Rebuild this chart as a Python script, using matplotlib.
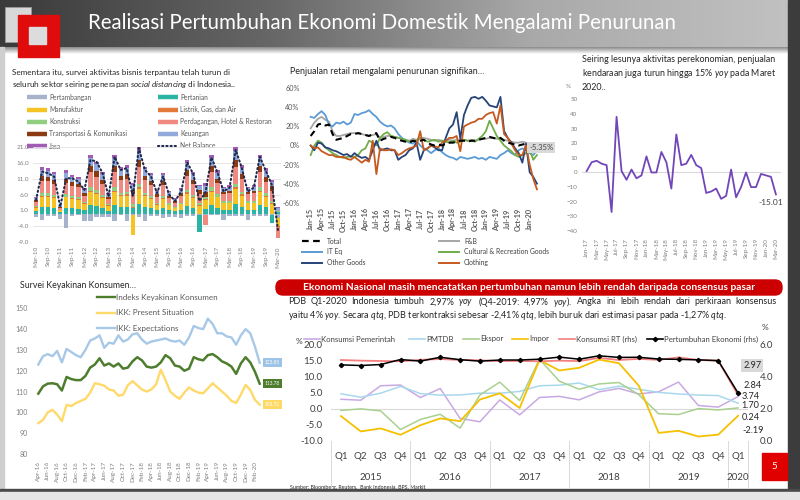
import numpy as np
import matplotlib
matplotlib.use('Agg')
import matplotlib.pyplot as plt
from matplotlib.patches import Rectangle, FancyBboxPatch

plt.rcParams['font.family'] = ['Lato', 'DejaVu Sans']
plt.rcParams['mathtext.fontset'] = 'custom'
plt.rcParams['mathtext.rm'] = 'Lato'
plt.rcParams['mathtext.it'] = 'Lato:italic'

W, H = 800, 500

# ---------------- survei kegiatan dunia usaha (kuartalan Mar-10 .. Mar-20)
survey_ticks = ['Mar-10', 'Sep-10', 'Mar-11', 'Sep-11', 'Mar-12', 'Sep-12', 'Mar-13',
                'Sep-13', 'Mar-14', 'Sep-14', 'Mar-15', 'Sep-15', 'Mar-16', 'Sep-16',
                'Mar-17', 'Sep-17', 'Mar-18', 'Sep-18', 'Mar-19', 'Sep-19', 'Mar-20']
pertambangan = [-1.0, -2.0, -0.8, -0.8, -1.7, -4.6, -0.8, -0.5, -2.5, -2.5,
                -1.0, -1.0, -1.2, -2.5, -0.5, -2.5, -0.5, -1.0, -2.5, -0.8,
                -0.8, -1.5, -1.0, -1.0, -1.5, -0.8, -0.8, -0.3, -0.6, -0.5,
                -0.5, -2.0, -0.8, -0.8, -0.8, -2.0, -0.8, -0.8, -0.8, -0.5, -1.5]
pertanian = [0.7, 2.0, 2.0, 1.8, 0.4, 1.9, 1.7, 1.6, 1.1, 2.6,
             2.3, 1.8, 0.9, 2.6, 2.1, 2.1, 1.8, 2.9, 2.1, 1.8,
             1.0, 1.8, 1.0, 0.7, 1.1, 2.4, 1.8, -5.4, 1.5, 2.6,
             1.9, 1.2, 1.2, 2.9, 2.1, 1.2, 1.2, 2.6, 2.0, -2.5, 0.4]
manufaktur = [1.2, 3.4, 3.3, 3.1, 0.6, 3.2, 2.8, 2.7, 1.9, 4.3,
              3.8, 3.1, 1.5, 4.3, 3.4, 3.6, -6.3, 4.9, 3.4, 2.9,
              1.7, 2.9, 1.6, 1.1, 1.8, 3.9, 3.1, 2.5, 2.8, 4.3,
              3.2, 2.0, 2.1, 4.9, 3.6, 2.0, 2.1, 4.3, 3.3, 3.0, -2.5]
listrik = [0.1, 0.3, 0.3, 0.3, 0.1, 0.3, 0.3, 0.3, 0.2, 0.4,
           0.4, 0.3, 0.2, 0.4, 0.3, 0.4, 0.3, 0.5, 0.3, 0.3,
           0.2, 0.3, 0.2, 0.1, 0.2, 0.4, 0.3, 0.3, 0.3, 0.4,
           0.3, 0.2, 0.2, 0.5, 0.4, 0.2, 0.2, 0.4, 0.3, 0.3, -0.3]
konstruksi = [0.3, 0.8, 0.8, 0.7, 0.1, 0.7, 0.7, 0.6, 0.4, 1.0,
              0.9, 0.7, 0.4, 1.0, 0.8, 0.8, 0.9, 1.1, 0.8, 0.7,
              0.4, 0.7, 0.4, 0.3, 0.4, 0.9, 0.7, 0.6, 0.7, 1.0,
              0.7, 0.5, 0.5, 1.1, 0.8, 0.5, 0.5, 1.0, 0.8, 0.7, 0.3]
perdagangan = [1.4, 3.8, 3.8, 3.5, 0.7, 3.6, 3.2, 3.1, 2.1, 4.9,
               4.3, 3.5, 1.7, 4.9, 3.9, 4.0, 3.2, 5.5, 3.9, 3.3,
               2.0, 3.3, 1.8, 1.3, 2.1, 4.4, 3.5, 2.9, -3.0, 4.9,
               3.6, 2.2, 2.4, 5.5, 4.0, 2.2, 2.4, 4.9, 3.7, 3.3, -3.5]
transportasi = [0.5, 1.5, 1.4, 1.3, 0.3, 1.4, 1.2, 1.2, 0.8, 1.9,
                1.7, 1.3, 0.6, 1.9, 1.5, 1.5, 1.2, 2.1, 1.5, 1.3,
                0.8, 1.3, 0.7, 0.5, 0.8, 1.7, 1.3, 1.1, 1.4, 1.9,
                1.4, 0.8, 0.9, 2.1, 1.5, 0.8, 0.9, 1.9, 1.4, 1.3, 0.2]
keuangan = [0.7, 2.0, 2.0, 1.8, 0.4, 1.9, 1.7, 1.6, 1.1, 2.6,
            2.3, 1.8, 0.9, 2.6, 2.1, 2.1, 1.6, 2.9, 2.1, 1.8,
            1.0, 1.8, 1.0, 0.7, 1.1, 2.4, 1.8, 1.2, 2.0, 2.6,
            1.9, 1.2, 1.2, 2.9, 2.1, 1.2, 1.2, 2.6, 2.0, 1.5, 1.0]
jasa = [0.3, 0.9, 0.8, 0.8, 0.1, 0.8, 0.6, 0.6, 0.5, 0.9,
        0.8, 0.8, 0.3, 0.9, 0.8, 0.9, 0.7, 1.1, 0.8, 0.7,
        0.4, 0.7, 0.3, 0.2, 0.5, 0.9, 0.8, 0.5, 0.9, 0.9,
        0.8, 0.4, 0.5, 1.1, 0.9, 0.4, 0.5, 0.9, 0.8, 0.6, 0.3]
net_balance = [4.3, 13.3, 12.8, 11.7, 2.2, 11.2, 11.2, 10.1, 7.5, 17.0,
               16.5, 12.8, 5.4, 18.0, 13.8, 14.4, 5.4, 20.8, 13.8, 11.8,
               6.5, 11.8, 6.0, 4.0, 7.0, 16.2, 12.5, 4.0, 6.5, 17.8,
               13.0, 7.0, 8.2, 20.2, 14.6, 7.0, 8.2, 18.0, 13.5, 9.0, -5.2]

# ---------------- penjualan ritel (bulanan Jan-15 .. Mar-20, % yoy)
retail_ticks = ['Jan-15', 'Apr-15', 'Jul-15', 'Oct-15', 'Jan-16', 'Apr-16', 'Jul-16',
                'Oct-16', 'Jan-17', 'Apr-17', 'Jul-17', 'Oct-17', 'Jan-18', 'Apr-18',
                'Jul-18', 'Oct-18', 'Jan-19', 'Apr-19', 'Jul-19', 'Oct-19', 'Jan-20']
total = [10, 15, 22, 23, 21, 22, 12, 6, 7, 8, 10, 12,
         12, 13, 12, 11, 10, 12, 13, 5, 7, 8, 9, 8,
         6, 5, 4, 3, 5, 4, 5, 6, 3, 1, 0, 1,
         0, 2, 3, 3, 4, 5, 5, 4, 5, 5, 6, 7,
         8, 9, 8, 7, 8, 5, 3, 2, 1, 0, 1, 2,
         -1, 0, -5.35]
fnb = [18, 24, 28, 30, 27, 25, 15, 10, 10, 11, 12, 13,
       13, 13, 12, 11, 10, 11, 12, 8, 9, 10, 10, 9,
       8, 7, 6, 5, 7, 6, 8, 8, 7, 6, 5, 6,
       5, 5, 6, 5, 6, 6, 6, 5, 6, 5, 6, 7,
       7, 8, 8, 7, 7, 6, 5, 4, 3, 3, 4, 3,
       2, 1, -2]
it_eq = [30, 29, 33, 36, 32, 22, 20, 24, 23, 25, 22, 24,
         33, 32, 34, 35, 37, 33, 30, 25, 22, 20, 21, 18,
         12, 8, 5, 3, 2, 5, 0, -3, -5, -8, -5, -3,
         -7, -10, -12, -13, -15, -12, -13, -14, -13, -12, -14, -13,
         -15, -12, -13, -14, -10, -8, -5, -8, -10, -5, -3, -5,
         -8, -10, -5]
cultural = [-10, 0, 5, 3, -2, -5, -8, -10, -12, -13, -12, -11,
            -12, -10, -5, -3, 5, 3, 0, 8, 12, 14, 10, 9,
            8, 7, 6, 4, 5, 5, 8, 6, 4, 5, 6, 4,
            5, 4, 3, 5, 3, 4, 6, 5, 5, 4, 7, 10,
            15, 26, 18, 10, 5, 0, -3, -6, -10, -12, -10, -8,
            -5, -15, -10]
other_goods = [0, -5, 3, 2, -2, -3, -5, -6, -8, -10, -9, -12,
               -8, -11, -13, -12, -15, -5, 5, -5, -4, -3, -5, -5,
               -15, -12, -10, -5, -3, 3, -15, -5, -3, 0, -2, -5,
               -5, 8, 18, 22, 35, 7, 32, 42, 50, 51, 49, 51,
               47, 42, 41, 40, 51, 15, 8, 3, -3, -8, -18, 2,
               -28, -33, -40]
clothing = [0, -3, -2, -6, -8, -10, -10, -12, -12, -12, -14, -15,
            -12, -15, -18, -15, -17, 5, -30, -3, -5, -5, -4, -5,
            -10, -8, -5, -3, -2, 0, 15, -5, -3, 0, -1, -2,
            3, 5, 8, 8, 10, -6, 20, 22, 24, 25, 28, 28,
            32, 34, 35, 23, 42, 12, 8, 2, -5, -10, -10, 0,
            -20, -35, -46]

# ---------------- penjualan kendaraan (bulanan Jan-17 .. Mar-20, % yoy)
veh_ticks = ['Jan-17', 'Mar-17', 'May-17', 'Jul-17', 'Sep-17', 'Nov-17', 'Jan-18',
             'Mar-18', 'May-18', 'Jul-18', 'Sep-18', 'Nov-18', 'Jan-19', 'Mar-19',
             'May-19', 'Jul-19', 'Sep-19', 'Nov-19', 'Jan-20', 'Mar-20']
vehicle = [1, 7, 8, 6, 5, -27, 38, 1, -5, 2, -4, -2, 11, 0, 0, 14, 7, -11, 26, 5,
           6, 12, 5, 3, -14, -13, -11, -18, -16, 2, -17, -10, 0, -10, -10, -1, -2, -3,
           -15.01]

# ---------------- survei keyakinan konsumen (bulanan Apr-16 .. Mar-20)
ikk_ticks = ['Apr-16', 'Jun-16', 'Aug-16', 'Oct-16', 'Dec-16', 'Feb-17', 'Apr-17', 'Jun-17',
             'Aug-17', 'Oct-17', 'Dec-17', 'Feb-18', 'Apr-18', 'Jun-18', 'Aug-18', 'Oct-18',
             'Dec-18', 'Feb-19', 'Apr-19', 'Jun-19', 'Aug-19', 'Oct-19', 'Dec-19', 'Feb-20']
ikk = [109, 112.5, 113.8, 114, 113.5, 110.5, 117, 116, 115.5, 115.5, 117.5, 121.5,
       123, 126, 122.5, 123.5, 122, 123.5, 121, 121.5, 124.5, 126.5, 125, 122,
       121.5, 122, 124, 127.5, 126, 122.5, 122, 120, 121, 126.5, 125.5, 125,
       127.5, 128, 126.5, 124.5, 123.5, 122, 118.5, 123.5, 126.5, 124, 119.5, 113.78]
ike = [94.8, 96.4, 100, 101.2, 99, 95.8, 103.6, 103, 104.5, 105.5, 106.5, 109.5,
       114, 113.5, 112.8, 111, 110.5, 108, 108.5, 113, 115, 113, 111, 110,
       111, 113.5, 120.5, 115.5, 110, 108, 106.5, 109.5, 112, 110.5, 109.5, 109.2,
       111.5, 114, 112, 110, 108, 105.5, 104.5, 108.5, 113.2, 110.8, 106, 103.72]
iek = [123, 127, 128, 127, 129.5, 124, 130.5, 129, 127.5, 126.5, 130, 134.5,
       135.5, 137, 131, 133.5, 133, 137, 134, 135, 137.5, 138, 135, 133,
       134, 134.5, 135, 135.5, 134.5, 134, 134.5, 132.5, 136, 141.5, 140.5, 140,
       145, 142.5, 138, 138, 136.5, 136, 132.5, 137, 140, 138, 131.5, 123.85]

# ---------------- PDB per komponen (kuartalan Q1-2015 .. Q1-2020, % yoy)
gdp_q = ['Q1', 'Q2', 'Q3', 'Q4', 'Q1', 'Q2', 'Q3', 'Q4', 'Q1', 'Q2', 'Q3', 'Q4',
         'Q1', 'Q2', 'Q3', 'Q4', 'Q1', 'Q2', 'Q3', 'Q4', 'Q1']
gdp_years = ['2015', '2016', '2017', '2018', '2019', '2020']
kons_pemerintah = [2.91, 2.61, 7.09, 7.31, 3.43, 6.23, -3.01, -4.05, 2.69, -1.92, 3.46,
                   3.80, 2.73, 5.20, 6.27, 4.56, 5.22, 8.23, 0.98, 0.48, 3.74]
pmtdb = [4.60, 3.55, 4.79, 6.90, 4.67, 4.18, 4.24, 4.80, 4.77, 5.34, 7.08,
         7.26, 7.94, 5.87, 6.96, 6.01, 5.03, 4.55, 4.21, 4.06, 1.70]
ekspor = [-0.54, -0.06, -0.69, -6.44, -3.34, -1.73, -6.00, 4.24, 8.21, 2.52, 15.30,
          8.50, 6.00, 7.65, 8.08, 4.33, -1.58, -1.81, 0.02, -0.39, 0.24]
impor = [-2.28, -7.04, -6.11, -8.08, -5.13, -3.01, -3.87, 2.82, 4.75, 0.21, 15.03,
         11.81, 12.64, 15.17, 14.06, 7.10, -7.49, -6.84, -8.61, -8.05, -2.19]
kons_rt = [5.01, 4.97, 4.95, 4.93, 5.02, 5.07, 5.01, 4.99, 4.94, 4.95, 4.93,
           4.97, 4.94, 5.14, 5.01, 5.08, 5.02, 5.17, 5.01, 4.97, 2.84]
pdb = [4.71, 4.67, 4.73, 5.04, 4.94, 5.18, 5.03, 4.94, 5.01, 5.01, 5.06,
       5.19, 5.06, 5.27, 5.17, 5.18, 5.07, 5.05, 5.02, 4.97, 2.97]

TXT = '#262626'
GREY = '#7f7f7f'

fig = plt.figure(figsize=(8, 5), dpi=100)
fig.patch.set_facecolor('white')

# background layer in pixel coordinates (header, frames, texts)
bg = fig.add_axes([0, 0, 1, 1])
bg.set_xlim(0, W)
bg.set_ylim(H, 0)
bg.axis('off')

grad = np.linspace(0, 1, 256)[None, :]
bg.imshow(grad, extent=[0, W, 47, 0], cmap=matplotlib.colors.LinearSegmentedColormap.from_list(
    'hdr', ['#3a3a3a', '#666666', '#a9a9a9', '#c2c2c2']), aspect='auto', zorder=1)
shadow = np.linspace(0, 1, 32)[:, None]
bg.imshow(shadow, extent=[0, W, 54, 47], cmap=matplotlib.colors.LinearSegmentedColormap.from_list(
    'shd', ['#8a8a8a', '#ffffff']), aspect='auto', zorder=1)
bg.add_patch(Rectangle((5, 7), 26, 35, color='#d8d8d8', ec='#9a9a9a', lw=0.6, zorder=2))
bg.add_patch(Rectangle((18, 15), 41, 42, color='#e00b0b', zorder=3))
bg.add_patch(Rectangle((29, 27), 17, 17, color='#dcdcdc', zorder=4))
bg.text(88, 23, 'Realisasi Pertumbuhan Ekonomi Domestik Mengalami Penurunan', color='white',
        fontsize=14.8, va='center', ha='left', zorder=5)
bg.add_patch(Rectangle((0, 47), 4, 443, color='#cfcfcf', zorder=1))
bg.add_patch(Rectangle((788, 0), 12, 500, color='#3c3c3c', zorder=1))
bg.add_patch(Rectangle((0, 489), 800, 3, color='#4a4a4a', zorder=1))
bg.add_patch(Rectangle((0, 492), 800, 8, color='#e6e6e6', zorder=1))

# panel titles
bg.text(12, 72, 'Sementara itu, survei aktivitas bisnis terpantau telah turun di',
        fontsize=5.9, color=TXT, va='center')
bg.text(12, 85, r'seluruh sektor seiring penerapan $\it{social\ distancing}$ di Indonesia..',
        fontsize=5.9, color=TXT, va='center')
bg.text(290, 72, 'Penjualan retail mengalami penurunan signifikan…', fontsize=6.4,
        color=TXT, va='center')
bg.text(582, 60, 'Seiring lesunya aktivitas perekonomian, penjualan', fontsize=6.4,
        color=TXT, va='center')
bg.text(582, 74, r'kendaraan juga turun hingga 15% $\it{yoy}$ pada Maret', fontsize=6.4,
        color=TXT, va='center')
bg.text(582, 87, '2020..', fontsize=6.4, color=TXT, va='center')
bg.text(566, 87, '%', fontsize=4.5, color=GREY, va='center')
bg.text(20, 285, 'Survei Keyakinan Konsumen…', fontsize=6.3, color=TXT, va='center')

bg.add_patch(FancyBboxPatch((276, 280), 506, 15, boxstyle='round,pad=0,rounding_size=7',
                            color='#cc0000', zorder=2))
bg.text(529, 287.5, 'Ekonomi Nasional masih mencatatkan pertumbuhan namun lebih rendah '
        'daripada consensus pasar', fontsize=7.4, color='white', fontweight='bold',
        ha='center', va='center', zorder=3)

# justified first line of the paragraph
renderer = fig.canvas.get_renderer()
line1 = ['PDB', 'Q1-2020', 'Indonesia', 'tumbuh', '2,97%', r'$\it{yoy}$', '(Q4-2019:', '4,97%',
         r'$\it{yoy}$).', 'Angka', 'ini', 'lebih', 'rendah', 'dari', 'perkiraan', 'konsensus']
words = [bg.text(0, 302, w, fontsize=6.45, color=TXT, va='center') for w in line1]
widths = [t.get_window_extent(renderer).width for t in words]
gap = (777 - 288 - sum(widths)) / (len(words) - 1)
xpos = 288
for t, wd in zip(words, widths):
    t.set_x(xpos)
    xpos += wd + gap
bg.text(288, 316, r'yaitu 4% $\it{yoy}$. Secara $\it{qtq}$, PDB terkontraksi sebesar -2,41% '
        r'$\it{qtq}$, lebih buruk dari estimasi pasar pada -1,27% $\it{qtq}$.',
        fontsize=6.45, color=TXT, va='center')
bg.text(290, 487, 'Sumber: Bloomberg, Reuters,  Bank Indonesia, BPS, Markit', fontsize=3.8,
        color=TXT, va='center')
bg.add_patch(Rectangle((762, 453), 25, 27, color='#e00000', zorder=2))
bg.text(774.5, 466.5, '5', color='white', fontsize=7, ha='center', va='center', zorder=3)


def px_axes(x0, y0, x1, y1):
    ax = fig.add_axes([x0 / W, 1 - y1 / H, (x1 - x0) / W, (y1 - y0) / H])
    ax.set_facecolor('none')
    for s in ax.spines.values():
        s.set_visible(False)
    return ax


# ================= panel 1: survei kegiatan dunia usaha
sectors = [
    ('Pertambangan', pertambangan, '#a7b3cd'),
    ('Pertanian', pertanian, '#2bb3a3'),
    ('Manufaktur', manufaktur, '#f6c324'),
    ('Listrik, Gas, dan Air', listrik, '#e2793a'),
    ('Konstruksi', konstruksi, '#8fcf7f'),
    ('Perdagangan, Hotel & Restoran', perdagangan, '#f08a80'),
    ('Transportasi & Komunikasi', transportasi, '#8b3a12'),
    ('Keuangan', keuangan, '#91aadb'),
    ('Jasa', jasa, '#a05db3'),
]
ax1 = px_axes(33, 147.3, 281, 242)
xq = np.arange(len(net_balance))
pos = np.zeros(len(xq))
neg = np.zeros(len(xq))
for name, vals, col in sectors:
    v = np.array(vals)
    ax1.bar(xq, v, bottom=np.where(v >= 0, pos, neg), width=0.72, color=col, lw=0, zorder=2)
    pos += np.clip(v, 0, None)
    neg += np.clip(v, None, 0)
ax1.plot(xq, net_balance, color='#1f2a4d', lw=1.5, ls=(0, (0.6, 1.4)),
         dash_capstyle='round', zorder=3)
ax1.set_xlim(-0.5, len(xq) - 0.5)
ax1.set_ylim(-9, 21)
ax1.set_yticks(np.arange(-9, 22, 5))
ax1.set_yticklabels(['%.1f' % t for t in np.arange(-9, 22, 5)])
ax1.set_xticks(xq[::2])
ax1.set_xticklabels(survey_ticks, rotation=90)
ax1.tick_params(length=0, labelsize=4.6, labelcolor=GREY, pad=3)
ax1.grid(axis='y', color='#e3e3e3', lw=0.6, zorder=0)
ax1.set_axisbelow(True)

# legend (drawn by hand, two columns)
for i, (name, vals, col) in enumerate(sectors):
    r, c = divmod(i, 2)
    x0 = 27 if c == 0 else 158
    y = 97.3 + r * 12.2
    bg.plot([x0, x0 + 20], [y, y], color=col, lw=3.2, solid_capstyle='butt', zorder=3)
    bg.text(x0 + 22, y, name, fontsize=4.8, color='#595959', va='center', zorder=3)
bg.plot([158, 178], [146, 146], color='#1f2a4d', lw=1.5, ls=(0, (0.6, 1.4)),
        dash_capstyle='round', zorder=3)
bg.text(180, 146, 'Net Balance', fontsize=4.8, color='#595959', va='center', zorder=3)

# ================= panel 2: penjualan ritel
ax2 = px_axes(305.2, 88.3, 540.6, 202.7)
xm = np.arange(len(total))
retail = [
    ('F&B', fnb, '#a6a6a6'),
    ('IT Eq', it_eq, '#5b9bd5'),
    ('Cultural & Recreation Goods', cultural, '#70ad47'),
    ('Other Goods', other_goods, '#264478'),
    ('Clothing', clothing, '#c65a1e'),
]
for name, vals, col in retail:
    ax2.plot(xm, vals, color=col, lw=1.3, zorder=2)
ax2.plot(xm, total, color='black', lw=1.5, ls=(0, (3, 2)), zorder=3)
ax2.set_xlim(-1.5, 63)
ax2.set_ylim(-60, 60)
ax2.set_yticks(np.arange(-60, 61, 20))
ax2.set_yticklabels(['%d%%' % t for t in np.arange(-60, 61, 20)])
ax2.set_xticks(xm[::3])
ax2.set_xticklabels(retail_ticks, rotation=90, fontweight='bold')
ax2.tick_params(length=0, labelsize=5.2, labelcolor='#595959', pad=4)
ax2.annotate('-5.35%', (xm[-1], total[-1]), xytext=(3, 2.5), textcoords='offset points',
             fontsize=5.5, color='#404040', ha='center', va='center',
             bbox=dict(boxstyle='square,pad=0.25', fc='#d9d9d9', ec='none'), zorder=4)

leg2 = [('Total', 'black', (0, (3, 2)), 1.6), ('F&B', '#a6a6a6', '-', 1.4),
        ('IT Eq', '#5b9bd5', '-', 1.4), ('Cultural & Recreation Goods', '#70ad47', '-', 1.4),
        ('Other Goods', '#264478', '-', 1.4), ('Clothing', '#c65a1e', '-', 1.4)]
for i, (name, col, ls, lw) in enumerate(leg2):
    r, c = divmod(i, 2)
    x0 = 302 if c == 0 else 439
    y = 241 + r * 10.9
    bg.plot([x0, x0 + 20], [y, y], color=col, lw=lw, ls=ls, zorder=3)
    bg.text(x0 + 25, y, name, fontsize=4.9, color='#404040', va='center', zorder=3)

# ================= panel 3: penjualan kendaraan
ax3 = px_axes(581.7, 99.3, 780.9, 231)
xv = np.arange(len(vehicle))
ax3.axhline(0, color='#d9d9d9', lw=0.8, zorder=1)
ax3.plot(xv, vehicle, color='#7246b8', lw=1.3, zorder=2)
ax3.set_xlim(-1, 39)
ax3.set_ylim(-40, 50)
ax3.set_yticks(np.arange(-40, 51, 10))
ax3.set_xticks(xv[::2])
ax3.set_xticklabels(veh_ticks, rotation=90)
ax3.tick_params(length=0, labelsize=4.5, labelcolor=GREY, pad=5)
ax3.tick_params(axis='y', pad=3)
ax3.annotate('-15.01', (xv[-1], vehicle[-1]), xytext=(-3.5, -6), textcoords='offset points',
             fontsize=6, color='#404040', ha='center', va='center')

# ================= panel 4: keyakinan konsumen
ax4 = px_axes(33.6, 308.3, 264.4, 454)
xc = np.arange(len(ikk))
ax4.plot(xc, iek, color='#a8c8e8', lw=1.7, zorder=2)
ax4.plot(xc, ike, color='#ffd96a', lw=1.7, zorder=2)
ax4.plot(xc, ikk, color='#4e7d2e', lw=1.8, zorder=3)
ax4.axhline(80, color='#e3e3e3', lw=0.8, zorder=1)
ax4.set_xlim(-1, 48)
ax4.set_ylim(80, 150)
ax4.set_yticks(np.arange(80, 151, 10))
ax4.set_xticks(xc[::2])
ax4.set_xticklabels(ikk_ticks, rotation=90)
ax4.tick_params(length=0, labelsize=4.5, labelcolor=GREY, pad=5)
ax4.tick_params(axis='y', labelsize=5, pad=4)
for vals, col in [(iek, '#9dc3e6'), (ikk, '#4e7d2e'), (ike, '#ffd966')]:
    ax4.annotate('%.2f' % vals[-1], (xc[-1], vals[-1]), xytext=(9, 0),
                 textcoords='offset points', fontsize=3.4, color='white', ha='center',
                 va='center', bbox=dict(boxstyle='square,pad=0.45', fc=col, ec='none'))

leg4 = [('Indeks Keyakinan Konsumen', '#4e7d2e'), ('IKK: Present Situation', '#ffd96a'),
        ('IKK: Expectations', '#a8c8e8')]
for i, (name, col) in enumerate(leg4):
    y = 297.3 + i * 15.5
    bg.plot([97, 115], [y, y], color=col, lw=1.7, zorder=3)
    bg.text(116, y, name, fontsize=5.8, color='#595959', va='center', zorder=3)

# ================= panel 5: PDB
ax5 = px_axes(331, 344, 748, 441)
ax5r = ax5.twinx()
ax5r.set_facecolor('none')
for s in ax5r.spines.values():
    s.set_visible(False)
xg = np.arange(len(pdb))
ax5.axhline(0, color='#d9d9d9', lw=0.8, zorder=1)
ax5.plot(xg, kons_pemerintah, color='#c9a9e3', lw=1.1, zorder=2)
ax5.plot(xg, pmtdb, color='#a9d8ee', lw=1.1, zorder=2)
ax5.plot(xg, ekspor, color='#a9d18e', lw=1.1, zorder=2)
ax5.plot(xg, impor, color='#f5c000', lw=1.3, zorder=2)
ax5r.plot(xg, kons_rt, color='#f57f7f', lw=1.3, zorder=2)
ax5r.plot(xg, pdb, color='black', lw=1.1, marker='D', ms=2.2, zorder=3)
ax5.set_xlim(-0.5, len(xg) - 0.5)
ax5.set_ylim(-10, 20)
ax5r.set_ylim(0, 6)
ax5.set_yticks(np.arange(-10, 21, 5))
ax5.set_yticklabels(['%.1f' % t for t in np.arange(-10, 21, 5)])
ax5r.set_yticks(np.arange(0, 7, 2))
ax5r.set_yticklabels(['%.1f' % t for t in np.arange(0, 7, 2)])
ax5.set_xticks(xg)
ax5.set_xticklabels(gdp_q)
ax5.tick_params(length=0, labelsize=7, labelcolor='#404040', pad=6)
ax5.tick_params(axis='x', pad=8)
ax5r.tick_params(length=0, labelsize=7, labelcolor='#404040', pad=8.5)
tr = ax5.get_xaxis_transform()
for xs in [-0.5, 3.5, 7.5, 11.5, 15.5, 19.5, 20.5]:
    ax5.plot([xs, xs], [0, -0.48], color='#d9d9d9', lw=0.7, transform=tr, clip_on=False)
for i, yr in enumerate(gdp_years):
    xc_year = min(4 * i + 1.5, len(xg) - 1)
    ax5.text(xc_year, -0.38, yr, transform=tr, fontsize=7, color='#404040',
             ha='center', va='center')

end_labels = [(ax5r, pdb, (3.6, 19.8), True), (ax5r, kons_rt, (3.6, 6.6), False),
              (ax5, kons_pemerintah, (2.6, -0.2), False), (ax5, pmtdb, (2.4, -1.8), False),
              (ax5, ekspor, (2.6, -7.0), False), (ax5, impor, (3.0, -10.8), False)]
for axx, vals, off, boxed in end_labels:
    kw = dict(bbox=dict(boxstyle='square,pad=0.2', fc='#d9d9d9', ec='none')) if boxed else {}
    axx.annotate('%.2f' % vals[-1], (xg[-1], vals[-1]), xytext=off,
                 textcoords='offset points', fontsize=6.6, color='#262626',
                 ha='left', va='center', zorder=5, **kw)

leg5 = [('Konsumsi Pemerintah', '#c9a9e3', 304), ('PMTDB', '#a9d8ee', 409),
        ('Ekspor', '#a9d18e', 463), ('Impor', '#f5c000', 512),
        ('Konsumsi RT (rhs)', '#f57f7f', 559), ('Pertumbuhan Ekonomi (rhs)', 'black', 647)]
for name, col, x0 in leg5:
    bg.plot([x0, x0 + 16], [339, 339], color=col, lw=1.2, zorder=3)
    bg.text(x0 + 17, 339, name, fontsize=5.6, color='#404040', va='center', zorder=3)
bg.plot([655], [339], marker='D', ms=2.2, color='black', zorder=4)
bg.text(296, 342, '%', fontsize=6, color='#404040', va='center')
bg.text(762, 327, '%', fontsize=6, color='#404040', va='center')

fig.savefig('out.png', dpi=100)
